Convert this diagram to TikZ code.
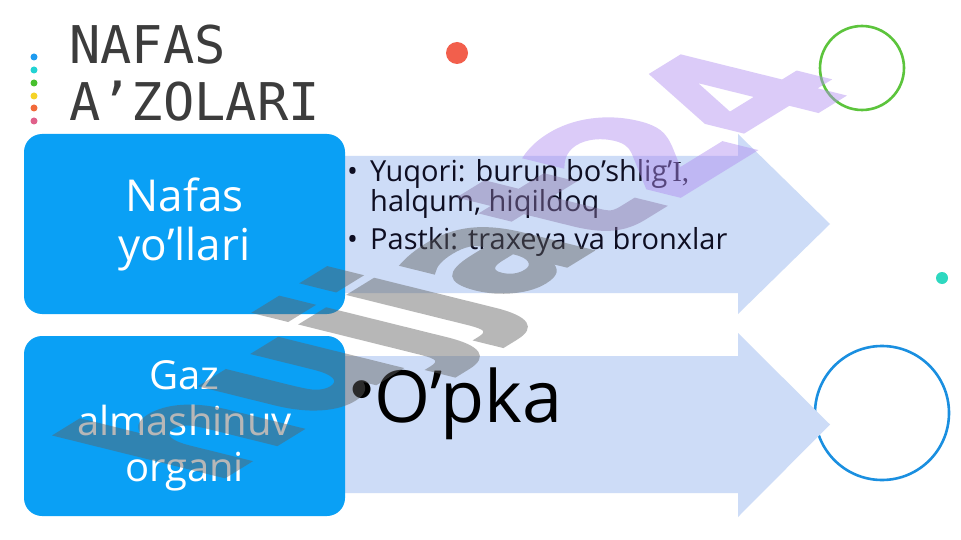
\documentclass[tikz,border=0pt]{standalone}
\usepackage{fontspec}
\setmainfont{Open Sans}
\newfontfamily\titlefont{DejaVu Sans Mono}
\newfontfamily\wmfont{DejaVu Sans}[BoldFeatures={FakeBold=2.5}]
\newfontfamily\serifalt{Liberation Serif}
\newfontfamily\bulletfont{Liberation Sans}
\definecolor{boxblue}{HTML}{0AA0F5}
\definecolor{arrowblue}{HTML}{CDDCF7}
\definecolor{titlegray}{HTML}{3C3C3C}
\definecolor{textdark}{HTML}{0E0E22}
\definecolor{wmgray}{HTML}{606060}
\definecolor{wmmid}{HTML}{8A76A8}
\definecolor{wmpurple}{HTML}{B08CF0}
\definecolor{dotblue}{HTML}{1E9BF0}
\definecolor{dotcyan}{HTML}{22D3D3}
\definecolor{dotgreen}{HTML}{48C02E}
\definecolor{dotyellow}{HTML}{F5D327}
\definecolor{dotorange}{HTML}{F26A3A}
\definecolor{dotpink}{HTML}{E0608A}
\definecolor{reddot}{HTML}{F25F4C}
\definecolor{ringgreen}{HTML}{5CC43C}
\definecolor{ringblue}{HTML}{1A8FE0}
\definecolor{tealdot}{HTML}{2ED8C0}
\begin{document}
\begin{tikzpicture}[x=1pt,y=-1pt,
  catbox/.style={rectangle, rounded corners=18pt, fill=boxblue, minimum width=321pt,
    minimum height=180pt, text=white, align=center, inner sep=0pt},
  arrowshape/.style={fill=arrowblue},
  bullettext/.style={anchor=base west, inner sep=0pt, text=textdark,
    font=\fontsize{29}{31}\selectfont},
  titletext/.style={anchor=base west, inner sep=0pt, text=titlegray,
    font=\titlefont\fontsize{52}{56}\selectfont},
  sidedot/.style={circle, inner sep=0pt, minimum size=7pt},
  ring/.style={circle, inner sep=0pt, line width=2.6pt}
]
\useasboundingbox (0,0) rectangle (961,540);
\fill[white] (0,0) rectangle (961,540);

% decorative dots
\node[sidedot, fill=dotblue]   (d1) at (34,57) {};
\node[sidedot, fill=dotcyan]   (d2) at (34,70) {};
\node[sidedot, fill=dotgreen]  (d3) at (34,83) {};
\node[sidedot, fill=dotyellow] (d4) at (34,96) {};
\node[sidedot, fill=dotorange] (d5) at (34,108) {};
\node[sidedot, fill=dotpink]   (d6) at (34,121) {};
\node[circle, inner sep=0pt, minimum size=22pt, fill=reddot] (red) at (457,53) {};
\node[circle, inner sep=0pt, minimum size=12pt, fill=tealdot] (teal) at (942,278) {};
\node[ring, draw=ringgreen, minimum size=84pt] (gring) at (862,68) {};
\node[ring, draw=ringblue, minimum size=134pt] (bring) at (882,413) {};

% title
\node[titletext] (t1) at (69,64) {NAFAS};
\node[titletext] (t2) at (69,121) {A’ZOLARI};

% arrows
\fill[arrowshape] (250,156) -- (738,156) -- (738,134) -- (830,224) -- (738,314)
  -- (738,293) -- (250,293) -- cycle;
\fill[arrowshape] (250,356) -- (738,356) -- (738,333) -- (830,424.5) -- (738,517)
  -- (738,493) -- (250,493) -- cycle;

% boxes
\node[catbox, font=\fontsize{44}{49}\selectfont] (box1) at (184.5,224) {Nafas\\yo’llari};
\node[catbox, font=\fontsize{40}{46}\selectfont] (box2) at (184.5,426) {Gaz\\almashinuv\\organi};

% bullet texts
\node[bullettext] (b1) at (347,182) {•};
\node[bullettext] (l1) at (370,182) {Yuqori: burun bo’shlig’{\serifalt I,}};
\node[bullettext] (l2) at (370,212) {halqum, hiqildoq};
\node[bullettext] (b2) at (347,250) {•};
\node[bullettext] (l3) at (370,250) {Pastki: traxeya va bronxlar};
\node[anchor=base west, inner sep=0pt, text=black, font=\bulletfont\fontsize{66}{70}\selectfont]
  (b3) at (350,411) {•};
\node[anchor=base west, inner sep=0pt, text=black, font=\fontsize{72}{76}\selectfont]
  (opka) at (374,422) {O’pka};

% watermark
\begin{scope}[transparency group, opacity=0.45]
\begin{scope}[shift={(212,484)}]
\node[anchor=base west, inner sep=0pt, xscale=2.56, rotate=57.6,
  font=\wmfont\bfseries\fontsize{102}{102}\selectfont] (wm) at (0,0)
  {\textcolor{wmgray}{hujja}\textcolor{wmmid}{t}\textcolor{wmpurple}{24}};
\end{scope}
\end{scope}
\end{tikzpicture}
\end{document}
